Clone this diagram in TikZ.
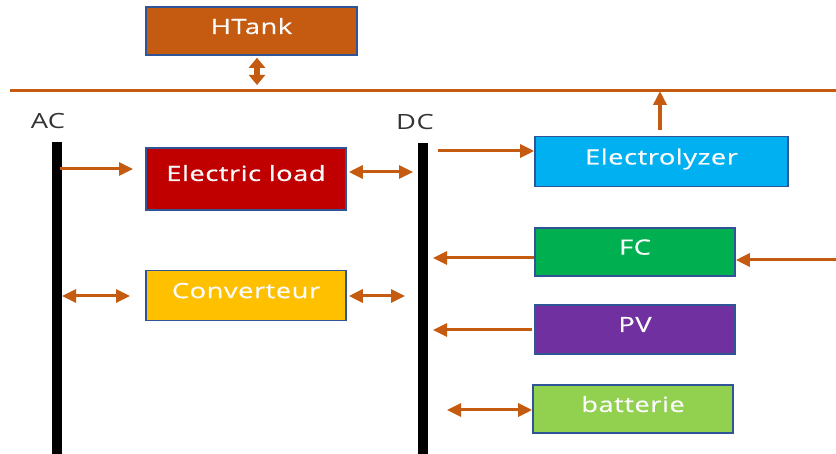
\documentclass[tikz,border=0pt]{standalone}
\usepackage{fontspec}
\setmainfont{Open Sans}
\newfontfamily\boxfont{Open Sans}[FakeStretch=1.3, LetterSpace=2.5, FakeBold=0.6]
\newfontfamily\busfont{Open Sans}[FakeStretch=1.3, LetterSpace=2.0]
\usetikzlibrary{positioning, arrows.meta}

\definecolor{tankorange}{HTML}{C55A11}
\definecolor{loadred}{HTML}{C00000}
\definecolor{convyellow}{HTML}{FFC000}
\definecolor{elecblue}{HTML}{00B0F0}
\definecolor{fcgreen}{HTML}{00B050}
\definecolor{pvpurple}{HTML}{7030A0}
\definecolor{battgreen}{HTML}{92D050}
\definecolor{rimblue}{HTML}{2F5597}
\definecolor{flow}{HTML}{C55A11}

\tikzset{
  block/.style={draw=rimblue, line width=0.8pt, text=white!96!gray, font=\boxfont\fontsize{10.5}{12}\selectfont,
    minimum width=100pt, minimum height=25pt, inner sep=0pt, text depth=5pt},
  flowline/.style={flow, line width=1.5pt},
  oneway/.style={flowline, -{Triangle[length=7pt, width=6.5pt]}},
  twoway/.style={flowline, {Triangle[length=7pt, width=6.5pt]}-{Triangle[length=7pt, width=6.5pt]}},
  bus/.style={line width=5pt, black},
  buslabel/.style={text=black!80, font=\busfont\fontsize{10.5}{12}\selectfont}
}

\begin{document}
\begin{tikzpicture}[x=0.5pt, y=-0.5pt]
    \useasboundingbox (0,0) rectangle (836,454);

    % --- Hydrogen tank and hydrogen line ---
    \node[block, fill=tankorange, minimum width=105.5pt, minimum height=24pt] (htank) at (251.5,31) {HTank};
    \coordinate (hleft) at (10,91);
    \coordinate (hright) at (836,91);
    \draw[flowline] (hleft) -- (hright);
    \coordinate (htankbus) at (257,85);
    \draw[flowline, line width=3pt, {Triangle[length=5pt, width=8pt]}-{Triangle[length=5pt, width=8pt]}]
      ([yshift=-1pt]htank.south -| htankbus) -- (htankbus);

    % --- AC and DC buses ---
    \coordinate (actop) at (57,142);
    \coordinate (acbot) at (57,454);
    \coordinate (dctop) at (423,143);
    \coordinate (dcbot) at (423,454);
    \draw[bus] (actop) -- (acbot);
    \draw[bus] (dctop) -- (dcbot);
    \node[buslabel, above=3pt of actop, xshift=-4.5pt] (aclabel) {AC};
    \node[buslabel, above=3pt of dctop, xshift=-4pt] (dclabel) {DC};

    % --- AC side blocks ---
    \node[block, fill=loadred, minimum height=31pt, text depth=6pt] (load) at (246,179) {Electric load};
    \node[block, fill=convyellow] (conv) at (246,295.5) {Converteur};

    % --- DC side blocks ---
    \node[block, fill=elecblue, minimum width=126.5pt] (elec) at (661.5,161.5) {Electrolyzer};
    \node[block, fill=fcgreen, minimum height=24pt] (fc) at (635,252) {FC};
    \node[block, fill=pvpurple, minimum height=24.5pt] (pv) at (635,329.5) {PV};
    \node[block, fill=battgreen, minimum height=24pt] (batt) at (633,409) {batterie};

    % --- Connectors ---
    \coordinate (acload) at (60,169);
    \coordinate (loadin) at (133,169);
    \draw[oneway] (acload) -- (loadin);
    \coordinate (loaddc) at (413,172);
    \draw[twoway] (load.east |- loaddc) ++(2,0) -- (loaddc);

    \coordinate (acconv) at (62,296);
    \coordinate (convin) at (130,296);
    \draw[twoway] (acconv) -- (convin);
    \coordinate (convdc) at (405,296);
    \draw[twoway] (conv.east |- convdc) ++(2,0) -- (convdc);

    \coordinate (dcelec) at (438,151);
    \draw[oneway] (dcelec) -- (elec.west |- dcelec);
    \coordinate (elecup) at (660,91);
    \draw[oneway, line width=2pt] (elec.north -| elecup) ++(0,-6) -- (elecup);

    \coordinate (fcdc) at (433,258);
    \draw[oneway] (fc.west |- fcdc) -- (fcdc);
    \coordinate (fcfeed) at (836,260);
    \draw[oneway] (fcfeed) -- (fc.east |- fcfeed);

    \coordinate (pvdc) at (433,330);
    \draw[oneway] (pv.west |- pvdc) ++(-2,0) -- (pvdc);

    \coordinate (dcbatt) at (447,410);
    \draw[twoway] (dcbatt) -- (batt.west |- dcbatt);

\end{tikzpicture}
\end{document}
